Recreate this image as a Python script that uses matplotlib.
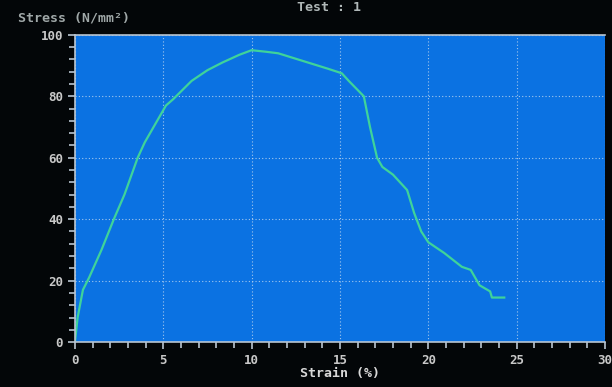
import matplotlib.pyplot as plt
from matplotlib.ticker import MultipleLocator

# stress-strain curve
strain = [0, 0.15, 0.45, 0.8, 1.5, 2.2, 2.8, 3.55, 3.95, 5.15, 5.55, 6.6, 7.5,
          8.35, 9.3, 10, 10.8, 11.5, 12.9, 14.3, 15.1, 15.5, 16.35, 16.7, 17.1,
          17.4, 18.0, 18.8, 19.2, 19.6, 20.0, 20.9, 21.9, 22.4, 22.9, 23.5,
          23.6, 24.3]
stress = [0, 8, 17, 21, 30, 40, 48, 60, 65, 77, 79, 85, 88.5,
          91, 93.5, 95, 94.5, 94, 91.5, 89, 87.5, 85, 80, 70, 60,
          57, 54.5, 49.5, 42, 36, 32.5, 29, 24.5, 23.5, 18.5, 16.5,
          14.5, 14.5]

x_ticks = [0, 5, 10, 15, 20, 25, 30]
y_ticks = [0, 20, 40, 60, 80, 100]

fig = plt.figure(figsize=(6.12, 3.87), dpi=100, facecolor='#030608')
ax = fig.add_axes([0.1225, 0.116, 0.866, 0.794])
ax.set_facecolor('#0b72e2')

ax.plot(strain, stress, color='#3fd39a', lw=1.6)

ax.set_xlim(0, 30)
ax.set_ylim(0, 100)
ax.set_xticks(x_ticks)
ax.set_yticks(y_ticks)
ax.xaxis.set_minor_locator(MultipleLocator(1))
ax.yaxis.set_minor_locator(MultipleLocator(4))
ax.grid(True, color='#c8dcf0', ls=(0, (1, 2)), lw=0.8, alpha=0.8)

for s in ax.spines.values():
    s.set_color('#b8c4d0')
    s.set_linewidth(1.2)
ax.spines['right'].set_visible(False)

ax.tick_params(which='both', direction='out', colors='#b8c4d0')
ax.tick_params(which='major', length=5, width=1.2)
ax.tick_params(which='minor', length=4, width=1.2)
for lab in ax.get_xticklabels() + ax.get_yticklabels():
    lab.set_fontfamily('DejaVu Sans Mono')
    lab.set_fontweight('bold')
    lab.set_fontsize(9)
    lab.set_color('#c8c8c8')

ax.set_xlabel('Strain (%)', family='DejaVu Sans Mono', weight='bold',
              fontsize=9.5, color='#d8d8d8', labelpad=0)
fig.text(0.03, 0.945, 'Stress (N/mm²)', family='DejaVu Sans Mono',
         weight='bold', fontsize=9.5, color='#a0a8a8')
fig.text(0.485, 0.998, 'Test : 1', family='DejaVu Sans Mono', weight='bold',
         fontsize=9.5, color='#b0b8b8', va='top')

fig.savefig('out.png', dpi=100, facecolor=fig.get_facecolor())
